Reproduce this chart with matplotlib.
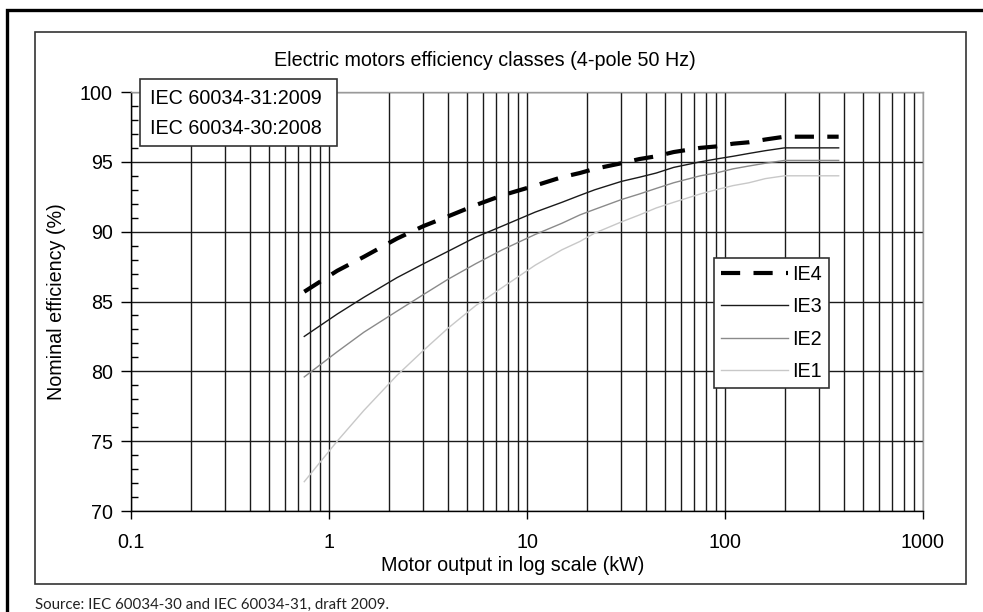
import math
import matplotlib
matplotlib.use("Agg")
import matplotlib.pyplot as plt
from matplotlib.patches import Rectangle
from matplotlib.ticker import LogLocator, MultipleLocator

plt.rcParams['font.family'] = ['Liberation Sans', 'DejaVu Sans']

# ---- data ----
power_kw = [0.75, 1.1, 1.5, 2.2, 3, 4, 5.5, 7.5, 11, 15, 18.5, 22, 30, 37, 45, 55,
            75, 90, 110, 132, 160, 200, 375]
ie4 = [85.7, 87.2, 88.2, 89.5, 90.4, 91.1, 91.9, 92.6, 93.3, 93.9, 94.2, 94.5, 94.9,
       95.2, 95.4, 95.7, 96.0, 96.1, 96.3, 96.4, 96.6, 96.8, 96.8]
ie3 = [82.5, 84.1, 85.3, 86.7, 87.7, 88.6, 89.6, 90.4, 91.4, 92.1, 92.6, 93.0, 93.6,
       93.9, 94.2, 94.6, 95.0, 95.2, 95.4, 95.6, 95.8, 96.0, 96.0]
ie2 = [79.6, 81.4, 82.8, 84.3, 85.5, 86.6, 87.7, 88.7, 89.8, 90.6, 91.2, 91.6, 92.3,
       92.7, 93.1, 93.5, 94.0, 94.2, 94.5, 94.7, 94.9, 95.1, 95.1]
ie1 = [72.1, 75.0, 77.2, 79.7, 81.5, 83.1, 84.7, 86.0, 87.6, 88.7, 89.3, 89.9, 90.7,
       91.2, 91.7, 92.1, 92.7, 93.0, 93.3, 93.5, 93.8, 94.0, 94.0]
series_labels = ["IE4", "IE3", "IE2", "IE1"]
x_ticks = [0.1, 1, 10, 100, 1000]
x_tick_labels = ["0.1", "1", "10", "100", "1000"]
y_ticks = [70, 75, 80, 85, 90, 95, 100]

title = "Electric motors efficiency classes (4-pole 50 Hz)"
xlabel = "Motor output in log scale (kW)"
ylabel = "Nominal efficiency (%)"
standards = ["IEC 60034-31:2009", "IEC 60034-30:2008"]
source = "Source: IEC 60034-30 and IEC 60034-31, draft 2009."

FS = 14.2
W, H = 983, 612
fig = plt.figure(figsize=(W / 100, H / 100), dpi=100)

def fx(px):
    return px / W

def fy(py):
    return 1 - py / H

# outer thick frame (partly outside the canvas)
fig.patches.append(Rectangle((fx(7), fy(640)), fx(1010), fy(10) - fy(640),
                             transform=fig.transFigure, fill=False,
                             edgecolor='black', linewidth=2.4))
# inner chart frame
fig.patches.append(Rectangle((fx(35), fy(584)), fx(966) - fx(35), fy(32) - fy(584),
                             transform=fig.transFigure, fill=False,
                             edgecolor='#333333', linewidth=1.2))

ax = fig.add_axes([fx(131), fy(511), fx(923) - fx(131), fy(92) - fy(511)])
ax.set_xscale('log')
ax.set_xlim(0.1, 1000)
ax.set_ylim(70, 100)

ax.plot(power_kw, ie4, color='black', linewidth=3.0, dashes=[4.6, 3.2],
        label=series_labels[0], zorder=5, dash_capstyle='butt')
ax.plot(power_kw, ie3, color='#1a1a1a', linewidth=1.0, label=series_labels[1], zorder=4)
ax.plot(power_kw, ie2, color='#8a8a8a', linewidth=1.0, label=series_labels[2], zorder=4)
ax.plot(power_kw, ie1, color='#c8c8c8', linewidth=1.0, label=series_labels[3], zorder=4)

# ticks
ax.set_xticks(x_ticks)
ax.set_xticklabels(x_tick_labels)
ax.xaxis.set_minor_locator(LogLocator(base=10, subs=range(2, 10), numticks=20))
ax.set_yticks(y_ticks)
ax.yaxis.set_minor_locator(MultipleLocator(1))

ax.tick_params(axis='x', which='major', direction='out', length=6, width=1,
               labelsize=FS, pad=10, colors='black')
ax.tick_params(axis='x', which='minor', length=0)
ax.tick_params(axis='y', which='major', direction='out', length=7, width=1,
               labelsize=FS, pad=6)
ax.tick_params(axis='y', which='minor', direction='in', length=5, width=1)

# grid
ax.grid(True, which='major', axis='both', color='#1a1a1a', linewidth=1.0, zorder=1)
ax.grid(True, which='minor', axis='x', color='#1a1a1a', linewidth=1.0, zorder=1)
ax.set_axisbelow(True)
for t in ax.xaxis.get_minor_ticks():
    v = t.get_loc()
    if v is None or not (v > 0):
        continue
    m = round(v / 10 ** math.floor(math.log10(v) + 1e-9))
    if m in (3, 4, 6, 9):
        t.gridline.set_color('#9a9a9a')
for t in ax.yaxis.get_major_ticks():
    loc = t.get_loc()
    if loc is not None and round(loc) in (75, 95, 100):
        t.gridline.set_color('#9a9a9a')

for s in ('left', 'bottom'):
    ax.spines[s].set_color('black')
    ax.spines[s].set_linewidth(1.0)
for s in ('top', 'right'):
    ax.spines[s].set_color('#9a9a9a')
    ax.spines[s].set_linewidth(1.0)

ax.set_xlabel(xlabel, fontsize=FS)
ax.xaxis.set_label_coords(0.482, -0.129)
ax.xaxis.label.set_va('center')
ax.set_ylabel(ylabel, fontsize=FS)
ax.yaxis.set_label_coords(-(131 - 57) / 792, 0.5)
ax.yaxis.label.set_va('center')

leg = ax.legend(loc='upper left', bbox_to_anchor=(fx(714), fy(258)),
                bbox_transform=fig.transFigure, fontsize=FS, frameon=True,
                fancybox=False, framealpha=1, edgecolor='#333333',
                handlelength=3.4, handletextpad=0.2, labelspacing=0.68,
                borderpad=0.35, borderaxespad=0)
leg.get_frame().set_linewidth(1.2)
leg.set_zorder(10)

# title
fig.text(fx(485), fy(60), title, fontsize=FS, ha='center', va='center')

# standards box
fig.patches.append(Rectangle((fx(140), fy(146)), fx(337) - fx(140), fy(79) - fy(146),
                             transform=fig.transFigure, facecolor='white',
                             edgecolor='#333333', linewidth=1.2, zorder=20))
fig.text(fx(150), fy(98), standards[0], fontsize=FS, ha='left', va='center', zorder=21)
fig.text(fx(150), fy(128), standards[1], fontsize=FS, ha='left', va='center', zorder=21)

# source
fig.text(fx(35), fy(605), source, fontsize=10.8, family=['Lato', 'DejaVu Sans'],
         ha='left', va='center', color='#222222')

fig.savefig('out.png', dpi=100)
